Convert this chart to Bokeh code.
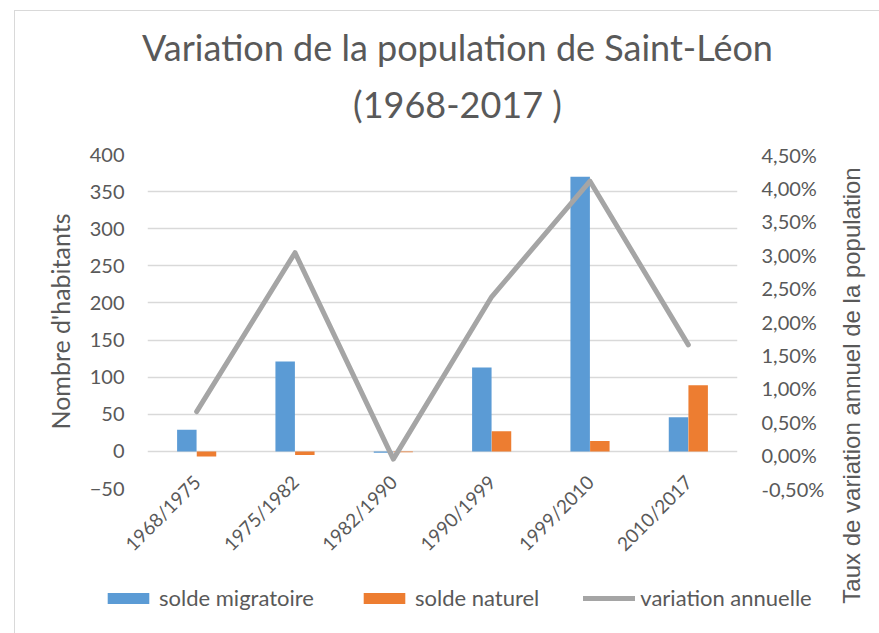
import math
from bokeh.plotting import figure
from bokeh.layouts import row, column
from bokeh.models import (FactorRange, Range1d, LinearAxis, FixedTicker, Legend, LegendItem,
                          Label, CustomJSTickFormatter, ColumnDataSource)
from bokeh.transform import dodge
from bokeh.embed import file_html
from bokeh.resources import INLINE

# ---- data ----
periods = ["1968/1975", "1975/1982", "1982/1990", "1990/1999", "1999/2010", "2010/2017"]
solde_migratoire = [29, 121, -2, 113, 370, 46]
solde_naturel = [-7, -5, -1, 27, 14, 89]
variation_annuelle = [0.65, 3.03, -0.06, 2.37, 4.10, 1.65]  # percent
left_ticks = [-50, 0, 50, 100, 150, 200, 250, 300, 350, 400]
right_ticks = [-0.5, 0.0, 0.5, 1.0, 1.5, 2.0, 2.5, 3.0, 3.5, 4.0, 4.5]
series_names = ["solde migratoire", "solde naturel", "variation annuelle"]
title_lines = ["Variation de la population de Saint-Léon", "(1968-2017 )"]
left_label = "Nombre d'habitants"
right_label = "Taux de variation annuel de la population"

BLUE = "#5B9BD5"
ORANGE = "#ED7D31"
GRAY = "#A5A5A5"
TXT = "#595959"
BORDER = "#D9D9D9"
FONT = "Lato"

src = ColumnDataSource(dict(period=periods, mig=solde_migratoire, nat=solde_naturel,
                            var=variation_annuelle))

W_MAIN, W_SIDE, H = 835, 44, 633
H_TOP, H_LEG = 130, 58
H_MAIN = H - H_TOP - H_LEG


def clear_bg(f):
    f.background_fill_alpha = 0
    f.border_fill_alpha = 0
    if "frame_align" in f.properties():
        f.frame_align = False


def strip(w, h, **kw):
    f = figure(width=w, height=h, output_backend="svg", toolbar_location=None,
               x_axis_type=None, y_axis_type=None, min_border=0, **kw)
    f.title = None
    f.outline_line_color = None
    f.grid.visible = False
    clear_bg(f)
    return f


# ---- main chart ----
p = figure(x_range=FactorRange(*periods), y_range=Range1d(-50, 400),
           width=W_MAIN, height=H_MAIN, output_backend="svg", toolbar_location=None,
           min_border_left=147, min_border_right=98, min_border_top=24,
           min_border_bottom=H_MAIN - 334 - 24)
p.title = None
p.outline_line_color = None
p.extra_y_ranges = {"pct": Range1d(-0.5, 4.5)}
clear_bg(p)

p.vbar(x=dodge("period", -0.1, range=p.x_range), top="mig", bottom=0, width=0.198,
       source=src, fill_color=BLUE, line_color=None)
p.vbar(x=dodge("period", 0.1, range=p.x_range), top="nat", bottom=0, width=0.198,
       source=src, fill_color=ORANGE, line_color=None)
p.line(x="period", y="var", y_range_name="pct", source=src, line_color=GRAY,
       line_width=5, line_cap="round", line_join="round")

p.xgrid.grid_line_color = None
p.ygrid.grid_line_color = BORDER
p.ygrid.grid_line_width = 1.3

ya = p.yaxis[0]
ya.ticker = FixedTicker(ticks=left_ticks)
ya.axis_line_color = None
ya.major_tick_line_color = None
ya.minor_tick_line_color = None
ya.major_label_text_font = FONT
ya.major_label_text_font_size = "20px"
ya.major_label_text_color = TXT
ya.major_label_standoff = 17
ya.axis_label = left_label
ya.axis_label_text_font = FONT
ya.axis_label_text_font_size = "25px"
ya.axis_label_text_font_style = "normal"
ya.axis_label_text_color = TXT
ya.axis_label_standoff = 12

ra = LinearAxis(y_range_name="pct", ticker=FixedTicker(ticks=right_ticks),
                formatter=CustomJSTickFormatter(code="return tick.toFixed(2).replace('.', ',') + '%';"))
ra.axis_line_color = None
ra.major_tick_line_color = None
ra.minor_tick_line_color = None
ra.major_label_text_font = FONT
ra.major_label_text_font_size = "20px"
ra.major_label_text_color = TXT
ra.major_label_standoff = 18
p.add_layout(ra, "right")

xa = p.xaxis[0]
xa.axis_line_color = None
xa.major_tick_line_color = None
xa.minor_tick_line_color = None
xa.major_label_orientation = math.pi / 4
xa.major_label_text_font = FONT
xa.major_label_text_font_size = "19px"
xa.major_label_text_color = TXT
xa.major_label_standoff = -16

# ---- title strip ----
top = strip(W_MAIN, H_TOP, x_range=Range1d(0, 1), y_range=Range1d(0, 1))
top.add_layout(Label(x=457, y=H_TOP - 46, x_units="screen", y_units="screen", text=title_lines[0],
                     text_align="center", text_baseline="alphabetic", text_font=FONT,
                     text_font_size="36px", text_color=TXT))
top.add_layout(Label(x=457, y=H_TOP - 103, x_units="screen", y_units="screen", text=title_lines[1],
                     text_align="center", text_baseline="alphabetic", text_font=FONT,
                     text_font_size="36px", text_color=TXT))

# ---- legend strip (its renderers fall outside its ranges; only the legend shows) ----
leg = strip(W_MAIN, H_LEG, x_range=FactorRange(*periods), y_range=Range1d(1000, 1001))
l_mig = leg.vbar(x="period", top="mig", bottom=0, width=0.2, source=src,
                 fill_color=BLUE, line_color=None)
l_nat = leg.vbar(x="period", top="nat", bottom=0, width=0.2, source=src,
                 fill_color=ORANGE, line_color=None)
l_var = leg.line(x="period", y="var", source=src, line_color=GRAY, line_width=5,
                 line_cap="round", line_join="round")
legend = Legend(items=[LegendItem(label=series_names[0], renderers=[l_mig]),
                       LegendItem(label=series_names[1], renderers=[l_nat]),
                       LegendItem(label=series_names[2], renderers=[l_var])],
                orientation="horizontal", location=(102, 22),
                glyph_width=52, glyph_height=14, label_standoff=5, spacing=44,
                padding=0, margin=0, border_line_color=None, background_fill_alpha=0,
                label_text_font=FONT, label_text_font_size="22px", label_text_color=TXT)
leg.add_layout(legend, "center")

# ---- side strip with the secondary-axis title (reads bottom to top) ----
side = strip(W_SIDE, H, x_range=Range1d(0, 1), y_range=Range1d(0, 1))
side.add_layout(Label(x=16, y=H - 385, x_units="screen", y_units="screen", text=right_label,
                      angle=math.pi / 2, text_align="center", text_baseline="middle",
                      text_font="Liberation Sans", text_font_size="24px", text_color=TXT))

# chart-area frame line (top and left edges) drawn as the page background behind the plots
frame_css = {
    "background-color": "white",
    "background-image": f"linear-gradient({BORDER}, {BORDER}), linear-gradient({BORDER}, {BORDER})",
    "background-size": "1px 100%, 100% 1px",
    "background-position": "14px 10px, 14px 10px",
    "background-repeat": "no-repeat",
}
layout = row(column(row(top), p, row(leg)), side, styles=frame_css)
open("out.html", "w").write(file_html(layout, INLINE))
